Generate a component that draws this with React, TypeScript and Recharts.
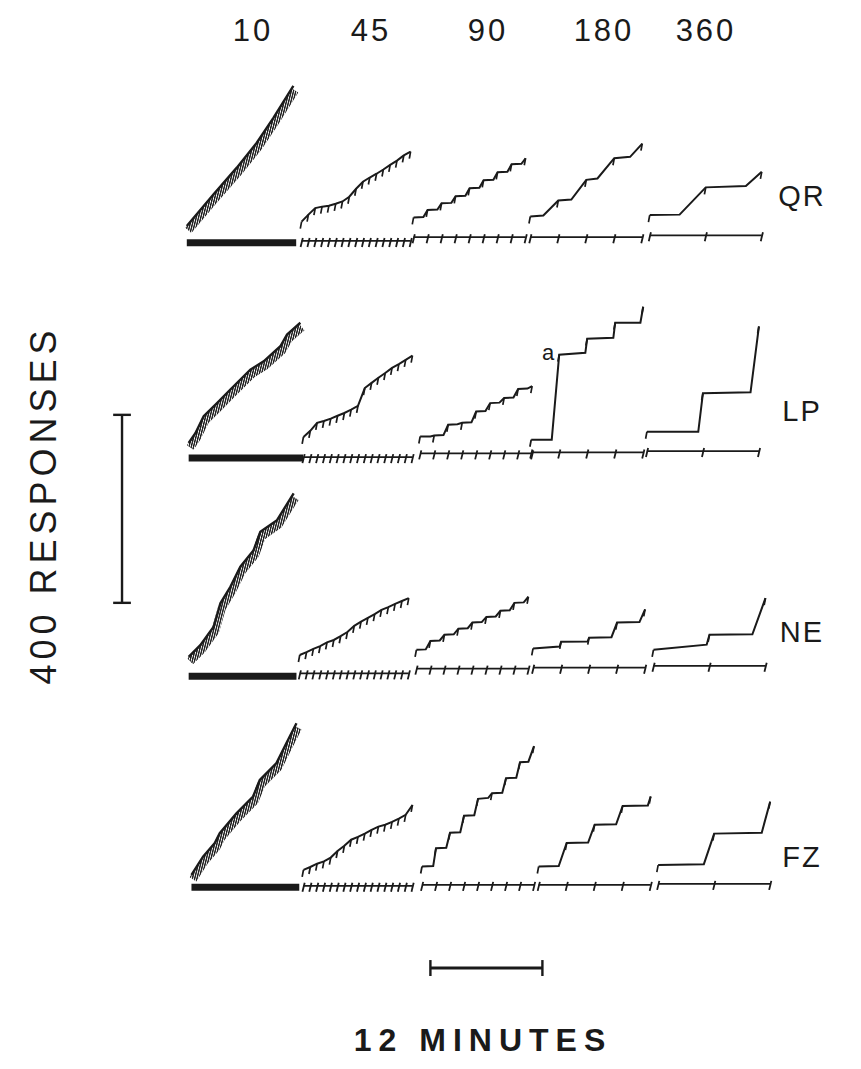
import React from 'react';
import { ComposedChart, Line, XAxis, YAxis, ReferenceLine } from 'recharts';

const SCHEDULES = ['10', '45', '90', '180', '360'];
const SUBJECTS = ['QR', 'LP', 'NE', 'FZ'];

// scale bars
const SCALE_RESP = 400;
const SCALE_MIN = 12;

// FI 10 s: cumulative records [minutes, responses]
const QR_10 = [[0, 0], [2.85, 67], [5.36, 124], [7.5, 177], [9.28, 230], [11.42, 298]];
const LP_10 = [[0, 0], [0.72, 21], [1.61, 57], [3.04, 85], [4.47, 114], [6.61, 156], [8.04, 174], [9.83, 206], [10.54, 231], [11.97, 256]];
const NE_10 = [[0, 0], [1.25, 25], [2.68, 64], [3.4, 114], [4.47, 149], [5.54, 192], [6.96, 227], [7.68, 266], [9.47, 291], [11.25, 348]];
const FZ_10 = [[0, 0], [1.24, 39], [2.5, 68], [3.03, 89], [4.82, 131], [6.6, 167], [7.32, 202], [9.11, 238], [10.18, 281], [11.25, 323]];

// FI 45 s: reinforcement times and cumulative responses at each
const T45 = [0, 0.73, 1.46, 2.19, 2.92, 3.65, 4.38, 5.11, 5.84, 6.57, 7.3, 8.03, 8.76, 9.49, 10.22, 10.95, 11.68];
const QR_45 = [0, 15, 29, 32, 34, 38, 43, 53, 70, 85, 94, 102, 111, 121, 130, 141, 149];
const LP_45 = [0, 13, 30, 34, 39, 45, 51, 58, 66, 104, 115, 126, 136, 147, 155, 164, 173];
const NE_45 = [0, 6, 13, 19, 27, 32, 40, 49, 62, 71, 79, 87, 96, 102, 109, 115, 121];
const FZ_45 = [0, 6, 13, 18, 26, 40, 51, 64, 70, 77, 85, 92, 96, 102, 109, 117, 138];

// FI 90/180/360 s: [minutes, responses, reinforced]
const QR_90 = [[0, 0, 1], [1.05, 1], [1.5, 16, 1], [2.55, 17], [3, 30, 1], [4.05, 31], [4.5, 45, 1], [5.55, 46], [6, 62, 1], [7.05, 63], [7.5, 79, 1], [8.55, 80], [9, 96, 1], [10.05, 97], [10.5, 113, 1], [11.55, 114], [12, 126, 1]];
const LP_90 = [[0, 0, 1], [1.1, 0], [1.5, 2, 1], [2.5, 3], [3, 25, 1], [4, 26], [4.5, 29, 1], [5.5, 30], [6, 53, 1], [7, 54], [7.5, 71, 1], [8.5, 72], [9, 82, 1], [10, 83], [10.5, 101, 1], [11.5, 102], [12, 107, 1]];
const NE_90 = [[0, 0, 1], [1.0, 1], [1.5, 19, 1], [2.5, 20], [3, 32, 1], [4, 33], [4.5, 45, 1], [5.5, 46], [6, 58, 1], [7, 59], [7.5, 70, 1], [8.5, 71], [9, 83, 1], [10, 84], [10.5, 100, 1], [11.5, 101], [12, 113, 1]];
const FZ_90 = [[0, 0, 1], [1.2, 1], [1.5, 39, 1], [2.6, 40], [3, 72, 1], [4.1, 73], [4.5, 108, 1], [5.6, 109], [6, 144, 1], [7.1, 146], [7.5, 156, 1], [8.6, 157], [9, 188, 1], [10.1, 189], [10.5, 222, 1], [11.4, 223], [12, 256, 1]];

const QR_180 = [[0, 0, 1], [1.4, 2], [3, 34, 1], [4.4, 36], [6, 78, 1], [7.2, 81], [9, 124, 1], [10.7, 127], [12, 155, 1]];
const LP_180 = [[0, 0, 1], [2.2, 0], [3, 181, 1], [5.8, 185], [6, 215, 1], [8.8, 217], [9, 249, 1], [11.7, 249], [12, 283, 1]];
const NE_180 = [[0, 0, 1], [2.85, 4], [3, 14, 1], [5.85, 15], [6, 23, 1], [8.4, 24], [9, 55, 1], [11.4, 56], [12, 83, 1]];
const FZ_180 = [[0, 0, 1], [2.15, 1], [3, 50, 1], [5.3, 51], [6, 89, 1], [8.3, 90], [9, 129, 1], [11.7, 130], [12, 149, 1]];

const QR_360 = [[0, 0, 1], [3.2, 1], [6, 59, 1], [10.3, 62], [12, 92, 1]];
const LP_360 = [[0, 0, 1], [5.5, 0], [6, 82, 1], [11.1, 84], [12, 224, 1]];
const NE_360 = [[0, 0, 1], [5.7, 11], [6, 32, 1], [10.6, 33], [12, 110, 1]];
const FZ_360 = [[0, 0, 1], [4.9, 2], [6, 67, 1], [11.1, 69], [12, 135, 1]];

// layout of the panels on the shared axes (minutes / responses)
const PANEL_START = [
  [9.3, 21.6, 33.6, 46.1, 58.9],
  [9.5, 21.8, 34.3, 46.2, 58.6],
  [9.5, 21.4, 33.9, 46.4, 59.3],
  [9.8, 21.8, 34.5, 47.0, 59.8],
];
const RECORD_BASE = [
  [1647, 1656, 1665, 1667, 1670],
  [1185, 1198, 1199, 1192, 1209],
  [730, 734, 745, 748, 745],
  [266, 277, 284, 284, 287],
];
const EVENT_BASE = [
  [1611, 1615, 1623, 1623, 1627],
  [1153, 1155, 1163, 1165, 1168],
  [689, 695, 705, 707, 711],
  [240, 243, 245, 245, 247],
];

const with45 = (vals: number[]) => vals.map((v, k) => [T45[k], v, 1]);

const RECORDS: number[][][][] = [
  [QR_10, with45(QR_45), QR_90, QR_180, QR_360],
  [LP_10, with45(LP_45), LP_90, LP_180, LP_360],
  [NE_10, with45(NE_45), NE_90, NE_180, NE_360],
  [FZ_10, with45(FZ_45), FZ_90, FZ_180, FZ_360],
];

const INK = '#1a1a1a';
const FONT = '"Liberation Sans", Arial, sans-serif';

type Pt = { t: number; r: number; rf: boolean };

const panels = SUBJECTS.flatMap((s, i) =>
  SCHEDULES.map((sch, j) => {
    const x0 = PANEL_START[i][j];
    const rec: Pt[] = RECORDS[i][j].map(([t, r, rf]) => ({ t: t + x0, r: r + RECORD_BASE[i][j], rf: !!rf }));
    const eb = EVENT_BASE[i][j];
    const ev: Pt[] =
      j === 0
        ? [
            { t: x0, r: eb, rf: false },
            { t: rec[rec.length - 1].t + 0.3, r: eb, rf: false },
          ]
        : rec.filter((p) => p.rf).map((p) => ({ t: p.t, r: eb, rf: true }));
    return { id: `${s}-${sch}`, dense: j === 0, rec, ev };
  })
);

const pip = (p: any) => {
  const { cx, cy, payload, index } = p;
  if (!payload || !payload.rf || cx == null) return <g key={`n${index}`} />;
  return <path key={`p${index}`} d={`M${cx},${cy} L${cx - 1.3},${cy + 7}`} stroke={INK} strokeWidth={1.7} fill="none" />;
};

const tick = (p: any) => {
  const { cx, cy, index } = p;
  if (cx == null) return <g key={`n${index}`} />;
  return <path key={`t${index}`} d={`M${cx + 1.2},${cy - 3} L${cx - 1},${cy + 6}`} stroke={INK} strokeWidth={1.8} fill="none" />;
};

const label = (text: string, x: number, y: number, size: number, extra: React.CSSProperties = {}) => (
  <div
    style={{
      position: 'absolute',
      left: x,
      top: y,
      transform: 'translate(-50%, -50%)',
      fontFamily: FONT,
      fontSize: size,
      lineHeight: 1,
      color: INK,
      whiteSpace: 'nowrap',
      ...extra,
    }}
  >
    {text}
  </div>
);

const HEADER_X = [253, 371, 488, 604, 706];
const ROW_Y = [196, 411, 632, 857];

export default function App() {
  const vx = 2.36;
  const vy = 845;
  const hx = 35.4;
  const hy = 68;
  return (
    <div style={{ position: 'absolute', left: 0, top: 0, width: 861, height: 1069, background: '#fff' }}>
      <style>{`.hatch .recharts-curve { transform: translate(1.5px, 4.5px); }`}</style>
      <ComposedChart width={861} height={1069} margin={{ top: 13, right: 61, bottom: 69, left: 100 }}>
        <defs>
          <pattern id="hatch" patternUnits="userSpaceOnUse" width="2.2" height="10" patternTransform="rotate(14)">
            <rect x="0" y="0" width="1.4" height="10" fill="#1a1a1a" />
          </pattern>
        </defs>
        <XAxis type="number" dataKey="t" domain={[0, 75]} hide allowDataOverflow />
        <YAxis type="number" domain={[0, 2100]} hide allowDataOverflow />
        {panels.map((p) =>
          p.dense ? (
            <Line
              key={`${p.id}-hatch`}
              className="hatch"
              data={p.rec}
              dataKey="r"
              type="linear"
              stroke="url(#hatch)"
              strokeWidth={8}
              dot={false}
              activeDot={false}
              isAnimationActive={false}
              legendType="none"
            />
          ) : null
        )}
        {panels.map((p) => (
          <Line
            key={`${p.id}-rec`}
            data={p.rec}
            dataKey="r"
            type="linear"
            stroke={INK}
            strokeWidth={p.dense ? 2.4 : 2}
            dot={p.dense ? false : pip}
            activeDot={false}
            isAnimationActive={false}
            legendType="none"
          />
        ))}
        {panels.map((p) => (
          <Line
            key={`${p.id}-ev`}
            data={p.ev}
            dataKey="r"
            type="linear"
            stroke={INK}
            strokeWidth={p.dense ? 7 : 1.8}
            dot={p.dense ? false : tick}
            activeDot={false}
            isAnimationActive={false}
            legendType="none"
          />
        ))}
        <ReferenceLine segment={[{ x: vx, y: vy }, { x: vx, y: vy + SCALE_RESP }]} stroke={INK} strokeWidth={2.4} ifOverflow="visible" />
        <ReferenceLine segment={[{ x: vx - 0.95, y: vy }, { x: vx + 0.95, y: vy }]} stroke={INK} strokeWidth={2.4} ifOverflow="visible" />
        <ReferenceLine segment={[{ x: vx - 0.95, y: vy + SCALE_RESP }, { x: vx + 0.95, y: vy + SCALE_RESP }]} stroke={INK} strokeWidth={2.4} ifOverflow="visible" />
        <ReferenceLine segment={[{ x: hx, y: hy }, { x: hx + SCALE_MIN, y: hy }]} stroke={INK} strokeWidth={3} ifOverflow="visible" />
        <ReferenceLine segment={[{ x: hx, y: hy - 17 }, { x: hx, y: hy + 17 }]} stroke={INK} strokeWidth={2.4} ifOverflow="visible" />
        <ReferenceLine segment={[{ x: hx + SCALE_MIN, y: hy - 17 }, { x: hx + SCALE_MIN, y: hy + 17 }]} stroke={INK} strokeWidth={2.4} ifOverflow="visible" />
      </ComposedChart>
      {SCHEDULES.map((s, j) => (
        <React.Fragment key={s}>{label(s, HEADER_X[j], 30, 31, { letterSpacing: 3 })}</React.Fragment>
      ))}
      {SUBJECTS.map((s, i) => (
        <React.Fragment key={s}>{label(s, 802, ROW_Y[i], 29, { letterSpacing: 2 })}</React.Fragment>
      ))}
      {label('a', 548, 353, 22)}
      {label(`${SCALE_RESP} RESPONSES`, 44, 505, 36, { transform: 'translate(-50%, -50%) rotate(-90deg)', letterSpacing: 5 })}
      {label(`${SCALE_MIN} MINUTES`, 483, 1040, 32, { fontWeight: 700, letterSpacing: 7 })}
    </div>
  );
}
